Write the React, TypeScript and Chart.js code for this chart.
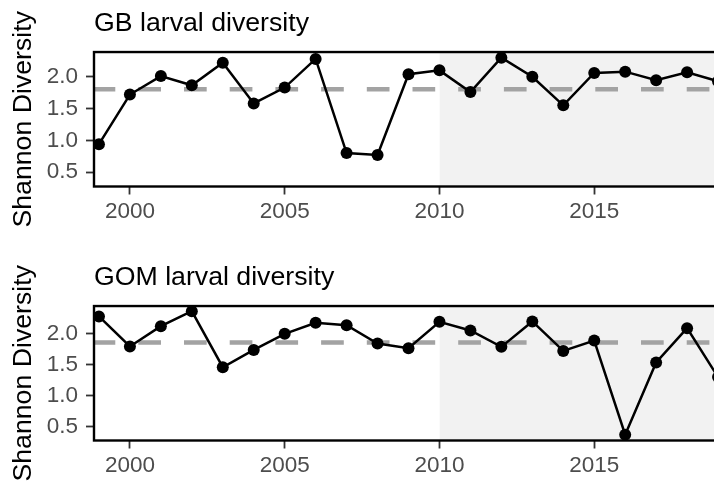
import React, { useEffect, useRef } from "react";
import { Chart, registerables } from "chart.js";

Chart.register(...registerables);

// ---- data ----
const years = [1999, 2000, 2001, 2002, 2003, 2004, 2005, 2006, 2007, 2008, 2009, 2010, 2011, 2012, 2013, 2014, 2015, 2016, 2017, 2018, 2019];
const gbDiversity = [0.94, 1.72, 2.01, 1.865, 2.22, 1.58, 1.83, 2.28, 0.8, 0.77, 2.04, 2.1, 1.76, 2.3, 2.0, 1.55, 2.06, 2.08, 1.945, 2.07, 1.93];
const gomDiversity = [2.273, 1.791, 2.117, 2.358, 1.458, 1.736, 1.994, 2.17, 2.133, 1.839, 1.764, 2.186, 2.048, 1.785, 2.193, 1.72, 1.887, 0.376, 1.534, 2.085, 1.3];
const gbMean = 1.805;
const gomMean = 1.855;
const shadeStart = 2010;
const xTicks = [2000, 2005, 2010, 2015];
const yTicks = [0.5, 1.0, 1.5, 2.0];
const panelTitles = ["GB larval diversity", "GOM larval diversity"];
const yAxisTitle = "Shannon Diversity";
const xRange = [1998.84, 2019.16];
const gbYRange = [0.275, 2.388];
const gomYRange = [0.282, 2.44];

const FONT = "'Liberation Sans', Arial, Helvetica, sans-serif";
const CANVAS_W = 729;

const borderPlugin = {
  id: "panelBorder",
  afterDatasetsDraw(chart: any) {
    const { ctx, chartArea } = chart;
    ctx.save();
    ctx.strokeStyle = "#000000";
    ctx.lineWidth = 2.4;
    ctx.strokeRect(chartArea.left, chartArea.top, chartArea.right - chartArea.left, chartArea.bottom - chartArea.top);
    ctx.restore();
  },
};

type PanelProps = {
  title: string;
  values: number[];
  mean: number;
  yRange: number[];
  top: number;
  height: number;
  titlePad: { top: number; bottom: number };
  xHeight: number;
};

function Panel({ title, values, mean, yRange, top, height, titlePad, xHeight }: PanelProps) {
  const ref = useRef<HTMLCanvasElement | null>(null);
  useEffect(() => {
    if (!ref.current) return;
    const chart = new Chart(ref.current, {
      type: "line",
      data: {
        datasets: [
          {
            label: "shade",
            data: [
              { x: shadeStart, y: yRange[1] },
              { x: xRange[1], y: yRange[1] },
            ],
            fill: "start",
            backgroundColor: "#f2f2f2",
            borderWidth: 0,
            pointRadius: 0,
            order: 3,
          },
          {
            label: "mean",
            data: [
              { x: xRange[0], y: mean },
              { x: xRange[1], y: mean },
            ],
            borderColor: "#a3a3a3",
            borderWidth: 4.5,
            borderDash: [22.7, 23],
            borderDashOffset: 1.4,
            pointRadius: 0,
            fill: false,
            order: 2,
          },
          {
            label: title,
            data: years.map((y, i) => ({ x: y, y: values[i] })),
            borderColor: "#000000",
            borderWidth: 2.5,
            pointRadius: 6,
            pointBackgroundColor: "#000000",
            pointBorderWidth: 0,
            tension: 0,
            fill: false,
            order: 1,
          },
        ],
      },
      options: {
        responsive: false,
        animation: false,
        events: [],
        layout: { padding: 0 },
        plugins: {
          legend: { display: false },
          tooltip: { enabled: false },
          title: {
            display: true,
            text: title,
            align: "start",
            fullSize: false,
            color: "#000000",
            font: { family: FONT, size: 26.7, weight: "normal", lineHeight: 1.2 },
            padding: titlePad,
          },
        },
        scales: {
          x: {
            type: "linear",
            min: xRange[0],
            max: xRange[1],
            afterBuildTicks: (s: any) => {
              s.ticks = xTicks.map((v) => ({ value: v }));
            },
            afterFit: (s: any) => {
              s.height = xHeight;
            },
            grid: {
              display: true,
              drawOnChartArea: false,
              drawTicks: true,
              tickLength: 8,
              tickColor: "#333333",
              tickWidth: 1.8,
            },
            border: { display: false },
            ticks: {
              autoSkip: false,
              maxRotation: 0,
              padding: 3.7,
              color: "#4d4d4d",
              font: { family: FONT, size: 22.5 },
              callback: (v: any) => String(v),
            },
          },
          y: {
            type: "linear",
            min: yRange[0],
            max: yRange[1],
            afterBuildTicks: (s: any) => {
              s.ticks = yTicks.map((v) => ({ value: v }));
            },
            afterFit: (s: any) => {
              s.width = 94;
            },
            grid: {
              display: true,
              drawOnChartArea: false,
              drawTicks: true,
              tickLength: 8,
              tickColor: "#333333",
              tickWidth: 1.8,
            },
            border: { display: false },
            title: {
              display: true,
              text: yAxisTitle,
              color: "#000000",
              font: { family: FONT, size: 26.7, lineHeight: 1.2 },
              padding: { top: 7.6, bottom: 0 },
            },
            ticks: {
              padding: 8,
              color: "#4d4d4d",
              font: { family: FONT, size: 22.5 },
              callback: (v: any) => Number(v).toFixed(1),
            },
          },
        },
      },
      plugins: [borderPlugin],
    } as any);
    return () => chart.destroy();
  }, [title, values, mean, yRange, titlePad, xHeight]);
  return (
    <canvas
      ref={ref}
      width={CANVAS_W}
      height={height}
      style={{ position: "absolute", left: 0, top, width: CANVAS_W, height }}
    />
  );
}

const topPad = { top: 7.8, bottom: 12.2 };
const bottomPad = { top: 19.1, bottom: 11.9 };

export default function App() {
  return (
    <div
      style={{
        position: "absolute",
        left: 0,
        top: 0,
        width: 714,
        height: 483,
        overflow: "hidden",
        background: "#ffffff",
      }}
    >
      <Panel title={panelTitles[0]} values={gbDiversity} mean={gbMean} yRange={gbYRange} top={0} height={243} titlePad={topPad} xHeight={56.5} />
      <Panel title={panelTitles[1]} values={gomDiversity} mean={gomMean} yRange={gomYRange} top={243} height={240} titlePad={bottomPad} xHeight={42.5} />
    </div>
  );
}
